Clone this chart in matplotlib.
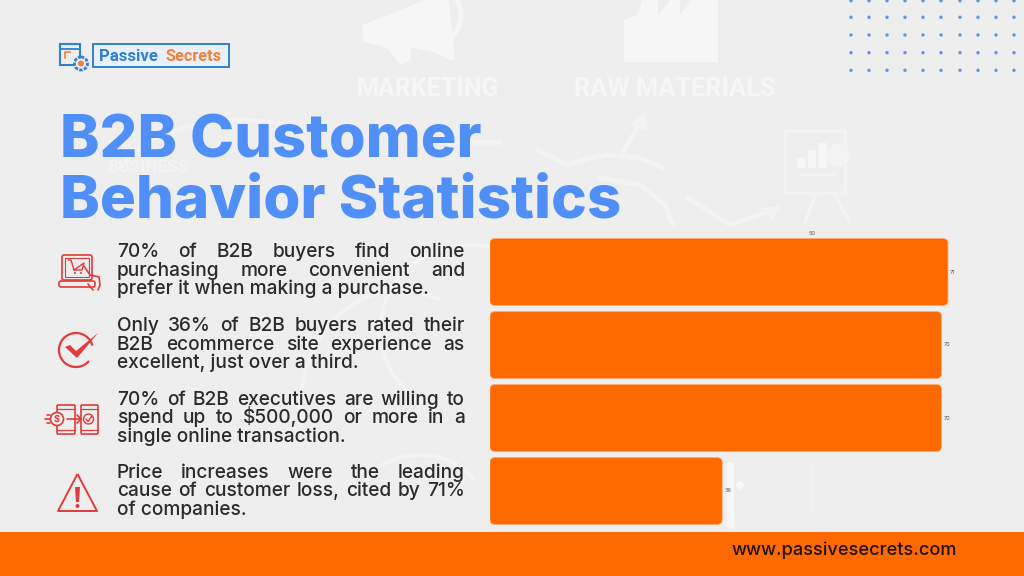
import matplotlib
matplotlib.use("Agg")
import matplotlib.pyplot as plt
from matplotlib.patches import (Rectangle, FancyBboxPatch, Circle, Polygon, Arc,
                                PathPatch, Wedge)
from matplotlib.path import Path

# ---------- data ----------
values = [71, 70, 70, 36]
value_ticks = [50]
title_lines = ["B2B Customer", "Behavior Statistics"]
block1 = ["70% of B2B buyers find online", "purchasing more convenient and", "prefer it when making a purchase."]
block2 = ["Only 36% of B2B buyers rated their", "B2B ecommerce site experience as", "excellent, just over a third."]
block3 = ["70% of B2B executives are willing to", "spend up to $500,000 or more in a", "single online transaction."]
block4 = ["Price increases were the leading", "cause of customer loss, cited by 71%", "of companies."]
url_text = "www.passivesecrets.com"

# ---------- style ----------
W, H = 1024, 576
BG = "#eeeeee"
WM = "#f6f6f6"
WM2 = "#f3f3f3"
ORANGE = "#ff6a00"
BLUE = "#4f8ff7"
RED = "#e23b3b"
INK = "#2b2b2b"
plt.rcParams["font.family"] = ["Inter", "DejaVu Sans"]

fig = plt.figure(figsize=(W / 100, H / 100), dpi=100, facecolor=BG)
pg = fig.add_axes([0, 0, 1, 1])
pg.set_xlim(0, W)
pg.set_ylim(H, 0)
pg.axis("off")
renderer = fig.canvas.get_renderer()


def fit(s, x0, x1, base, **kw):
    t = pg.text(x0, base, s, fontsize=20, va="baseline", ha="left", parse_math=False, **kw)
    w = t.get_window_extent(renderer).width
    t.set_fontsize(20 * (x1 - x0) / w)
    return t


def word_w(s, size, **kw):
    t = pg.text(0, 0, s, fontsize=size, parse_math=False, **kw)
    w = t.get_window_extent(renderer).width
    t.remove()
    return w


def justified(lines, x0, x1, baselines, size, **kw):
    for i, (line, base) in enumerate(zip(lines, baselines)):
        if i == len(lines) - 1:
            pg.text(x0, base, line, fontsize=size, va="baseline", parse_math=False, **kw)
            continue
        words = line.split(" ")
        widths = [word_w(w, size, **kw) for w in words]
        gap = (x1 - x0 - sum(widths)) / (len(words) - 1)
        x = x0
        for w, ww in zip(words, widths):
            pg.text(x, base, w, fontsize=size, va="baseline", parse_math=False, **kw)
            x += ww + gap


def stroke(xs, ys, c=WM2, lw=3.5):
    pg.plot(xs, ys, color=c, lw=lw, zorder=1, solid_capstyle="round", solid_joinstyle="round")


# ---------- watermark ----------
fit("MARKETING", 356, 498, 96, color=WM, fontweight="bold", family="Roboto", zorder=1)
fit("RAW MATERIALS", 574, 775, 96, color=WM, fontweight="bold", family="Roboto", zorder=1)
fit("BUSINESS", 108, 190, 172, color=WM2, fontweight="bold", family="Roboto", zorder=1)
pg.add_patch(Polygon([(365, 27), (425, 3), (446, 0), (452, 58), (436, 50), (408, 44), (408, 58),
                      (402, 62), (388, 45), (366, 40)], fc=WM, ec=WM, lw=4, joinstyle="round", zorder=1))
pg.add_patch(Arc((432, 15), 30, 40, theta1=-55, theta2=60, ec=WM, lw=3.5, zorder=1))
pg.add_patch(Arc((432, 15), 58, 60, theta1=-55, theta2=60, ec=WM, lw=3.5, zorder=1))
pg.add_patch(Polygon([(624, 62), (624, 20), (638, 15), (642, 0), (658, 0), (658, 16), (670, 0), (680, 0),
                      (680, 14), (692, 0), (718, 0), (718, 62)], fc=WM, ec="none", zorder=1))
pg.add_patch(Rectangle((785, 131), 60, 62, fc="none", ec=WM2, lw=2.5, zorder=1))
for x, y0 in [(797, 158), (808, 150), (819, 143)]:
    pg.add_patch(Rectangle((x, y0), 8, 168 - y0, fc=WM, ec="none", zorder=1))
pg.add_patch(Wedge((838, 155), 12, 0, 360, fc=WM2, ec="none", zorder=1))
stroke([800, 835], [174, 174], lw=2.5)
stroke([815, 805], [195, 222], lw=2.5)
stroke([835, 850], [195, 222], lw=2.5)
# sweeping arrows
stroke([537, 567, 590, 607, 640, 663], [150, 165, 158, 155, 158, 168])
stroke([623, 643], [152, 118])
pg.add_patch(Polygon([(630, 124), (645, 112), (648, 132)], fc=WM2, ec="none", zorder=1))
stroke([600, 640, 665, 673], [178, 185, 205, 225])
stroke([687, 730, 777], [197, 225, 208])
pg.add_patch(Polygon([(760, 208), (780, 206), (772, 220)], fc=WM2, ec="none", zorder=1))
stroke([440, 500], [142, 142])
for c, w, h, a, b in [((240, 200), 260, 160, 195, 320), ((470, 330), 180, 170, 125, 345),
                      ((400, 410), 200, 240, 170, 290), ((420, 500), 120, 90, 190, 340)]:
    pg.add_patch(Arc(c, w, h, theta1=a, theta2=b, ec=WM2, lw=3, zorder=1))
# pale shapes next to the bars
stroke([730, 730], [465, 525], c="#f8f8f8", lw=5)
pg.add_patch(Circle((740, 485), 4, fc="#f8f8f8", ec="none", zorder=1))
stroke([811, 811], [468, 510], c="#f0f0f0", lw=5)

# ---------- dots ----------
for x in [851, 869, 887, 905, 923, 941, 960, 978, 996, 1014]:
    for y in [0.7, 17.3, 35, 52.7, 70.3]:
        pg.add_patch(Circle((x, y), 1.7, fc="#5f92e8", ec="none", zorder=2))

# ---------- logo ----------
LB = "#2f80d0"
LO = "#f0803a"
pg.add_patch(Rectangle((93, 44), 136, 23, fc="#e9f0fa", ec=LB, lw=1.4, zorder=3))
fit("Passive", 99, 158, 61, color=LB, fontweight="bold", family="Roboto", zorder=4)
fit("Secrets", 166, 222, 61, color=LO, fontweight="bold", family="Roboto", zorder=4)
pg.add_patch(Rectangle((60, 44), 20, 21, fc="none", ec=LB, lw=1.5, zorder=3))
pg.plot([60, 80], [48.5, 48.5], color=LB, lw=1.3, zorder=3)
pg.plot([65, 65, 70], [58, 52, 52], color=LO, lw=1.2, zorder=3)
pg.add_patch(Circle((81, 63.5), 6.5, fc=BG, ec=LB, lw=2, ls=(0, (1.2, 0.5)), zorder=3))
pg.add_patch(Circle((81, 63.5), 3, fc=LO, ec="none", zorder=4))

# ---------- title ----------
fit(title_lines[0], 60, 481, 157, color=BLUE, fontweight=800, zorder=5)
fit(title_lines[1], 60, 621, 218, color=BLUE, fontweight=800, zorder=5)

# ---------- body ----------
ref = pg.text(0, 0, block1[2], fontsize=20, fontweight="medium")
body_size = 20 * 312 / ref.get_window_extent(renderer).width
ref.remove()
body_kw = dict(color=INK, fontweight="medium", zorder=5)
justified(block1, 117, 465, [257, 275.5, 294], body_size, **body_kw)
justified(block2, 117, 465, [331, 349.5, 368], body_size, **body_kw)
justified(block3, 117, 465, [405, 423, 441.5], body_size, **body_kw)
justified(block4, 117, 465, [478, 496.5, 515], body_size, **body_kw)

# ---------- icons ----------
ik = dict(color=RED, zorder=5, solid_capstyle="round")
# cart on a laptop
pg.add_patch(FancyBboxPatch((62, 255), 30, 25, boxstyle="round,pad=0,rounding_size=2", fc="none", ec=RED, lw=1.2, zorder=5))
pg.add_patch(Rectangle((65, 258), 24, 19, fc="none", ec=RED, lw=0.8, zorder=5))
pg.add_patch(FancyBboxPatch((59, 281), 36, 6, boxstyle="round,pad=0,rounding_size=2", fc="none", ec=RED, lw=1.2, zorder=5))
pg.plot([68, 71, 74, 84, 82, 74], [260, 260, 270, 263, 270, 270], lw=1, **ik)
pg.add_patch(Circle((75, 273), 1, fc=RED, ec="none", zorder=5))
pg.add_patch(Circle((81, 273), 1, fc=RED, ec="none", zorder=5))
pg.plot([84, 90, 99, 100, 98], [266, 275, 277, 285, 290], lw=1.2, **ik)
pg.plot([88, 93], [284, 290], lw=1.2, **ik)
# check mark
pg.add_patch(Arc((76, 350), 34, 34, theta1=40, theta2=345, ec=RED, lw=1.6, zorder=5))
pg.add_patch(Polygon([(65, 347), (70, 345), (76, 351), (98, 333), (77, 358)], fc=RED, ec="none", zorder=5))
# phones
pg.add_patch(FancyBboxPatch((57, 405), 18, 29, boxstyle="round,pad=0,rounding_size=1", fc=BG, ec=RED, lw=1.2, zorder=5))
pg.add_patch(FancyBboxPatch((81, 405), 17, 29, boxstyle="round,pad=0,rounding_size=1", fc=BG, ec=RED, lw=1.2, zorder=5))
pg.plot([57, 75], [409, 409], lw=0.9, **ik)
pg.plot([57, 75], [430, 430], lw=0.9, **ik)
pg.plot([81, 98], [409, 409], lw=0.9, **ik)
pg.plot([81, 98], [430, 430], lw=0.9, **ik)
pg.add_patch(Circle((57, 419), 6.5, fc=BG, ec=RED, lw=1.2, zorder=6))
pg.text(57, 419.5, "$", color=RED, fontsize=6.5, fontweight="bold", ha="center", va="center", parse_math=False, zorder=7)
pg.add_patch(Circle((88.5, 419), 5, fc=BG, ec=RED, lw=1, zorder=6))
pg.plot([86, 88, 91.5], [419, 421.5, 416.5], lw=1, color=RED, zorder=7)
pg.plot([67, 80], [419, 419], lw=1.2, **ik)
pg.plot([77, 81, 77], [415, 419, 423], lw=1.2, **ik)
for y, x in [(415, 47), (419, 45), (423, 47)]:
    pg.plot([x, 50], [y, y], lw=1.2, **ik)
# warning
tri = Path([(77.5, 474), (97, 511), (58, 511), (77.5, 474)], closed=False)
pg.add_patch(PathPatch(tri, fc="none", ec=RED, lw=1.4, joinstyle="round", zorder=5))
pg.add_patch(Polygon([(75, 487), (80, 487), (79, 502), (76, 502)], fc=RED, ec="none", zorder=5))
pg.add_patch(Circle((77.5, 506), 2, fc=RED, ec="none", zorder=5))

# ---------- footer ----------
pg.add_patch(Rectangle((0, 532), W, 44, fc=ORANGE, ec="none", zorder=5))
fit(url_text, 732, 957, 555, color="#1e1208", fontweight="medium", zorder=6)

# ---------- bars ----------
PX_X = 6.45
PX_Y = 73.0
left, top = 490.0, 235.5
n = len(values)
ax_w, ax_h = PX_X * 80, PX_Y * n
ax = fig.add_axes([left / W, 1 - (top + ax_h) / H, ax_w / W, ax_h / H], zorder=3)
ax.patch.set_alpha(0)
ax.set_xlim(0, 80)
ax.set_ylim(n - 0.5, -0.5)
for s in ax.spines.values():
    s.set_visible(False)
ax.set_yticks([])
ax.xaxis.tick_top()
ax.set_xticks(value_ticks)
ax.tick_params(axis="x", length=0, pad=-0.5, labelsize=4, labelcolor="#555555")
bars = ax.barh(range(n), values, height=0.915, color="none")
for b, v in zip(bars, values):
    x, y, w, h = b.get_bbox().bounds
    ax.add_patch(FancyBboxPatch((x, y), w, h, boxstyle="round,pad=0,rounding_size=0.75",
                                mutation_aspect=PX_X / PX_Y, fc=ORANGE, ec="#ffa566", lw=0.5, zorder=3))
    ax.text(v + 0.35, y + h / 2, str(v), fontsize=4, color="#555555", va="center", ha="left")

fig.savefig("out.png", dpi=100, facecolor=BG)
